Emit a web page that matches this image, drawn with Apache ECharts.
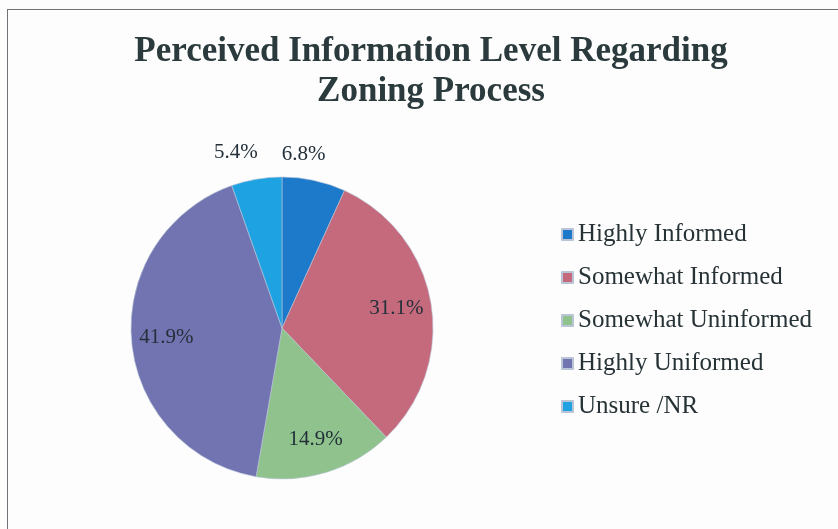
<!DOCTYPE html>
<html>
<head>
<meta charset="utf-8">
<script src="https://cdn.jsdelivr.net/npm/echarts@6/dist/echarts.min.js"></script>
<style>
  html, body { margin: 0; padding: 0; background: #fdfdfd; }
  #frame { position: absolute; left: 7px; top: 9px; width: 840px; height: 530px;
           border-left: 1px solid #6f7378; border-top: 1px solid #6f7378; }
  #chart { position: absolute; left: 0; top: 0; width: 838px; height: 529px; }
</style>
</head>
<body>
<div id="frame"></div>
<div id="chart"></div>
<script>
// values, clockwise from 12 o'clock
const categories = ['Highly Informed', 'Somewhat Informed', 'Somewhat Uninformed', 'Highly Uniformed', 'Unsure /NR'];
const shares = [6.8, 31.1, 14.9, 41.9, 5.4];
const colors = ['#1d79c9', '#c56a7c', '#8fc28c', '#7273b1', '#1ea2e2'];

const chart = echarts.init(document.getElementById('chart'));

const center = [282, 328];
const labelFont = { fontFamily: 'Liberation Serif', fontSize: 21, color: '#23303a' };
const pieData = categories.map((name, i) => ({ name: name, value: shares[i] }));

// transparent rings only used to place the percentage labels
const labelRing = (radius, test, shift) => ({
  type: 'pie',
  center: center,
  radius: radius,
  startAngle: 90,
  silent: true,
  itemStyle: { color: 'transparent', borderWidth: 0 },
  emphasis: { disabled: true },
  label: Object.assign({
    show: true,
    position: 'inside',
    formatter: p => test(p.value) ? p.value.toFixed(1) + '%' : ''
  }, labelFont),
  labelLine: { show: false },
  labelLayout: () => shift,
  data: pieData
});

chart.setOption({
  animation: false,
  color: colors,
  title: {
    text: 'Perceived Information Level Regarding\nZoning Process',
    left: 426,
    textAlign: 'center',
    top: 27,
    textStyle: {
      fontFamily: 'Liberation Serif',
      fontWeight: 'bold',
      fontSize: 35,
      lineHeight: 40,
      color: '#2b3a3c'
    }
  },
  legend: {
    orient: 'vertical',
    left: 556,
    top: 217,
    icon: 'rect',
    itemWidth: 11,
    itemHeight: 11,
    itemGap: 18,
    data: categories,
    textStyle: { fontFamily: 'Liberation Serif', fontSize: 25, lineHeight: 25, color: '#263236' }
  },
  series: [
    {
      type: 'pie',
      center: center,
      radius: 151,
      startAngle: 90,
      label: { show: false },
      labelLine: { show: false },
      itemStyle: { borderColor: '#b9c4d6', borderWidth: 0.6 },
      data: pieData
    },
    labelRing([75, 151], v => v >= 10, { dx: 0, dy: 0 }),
    labelRing([151, 199], v => v < 10, { dx: -16, dy: 0 })
  ]
});
</script>
</body>
</html>
